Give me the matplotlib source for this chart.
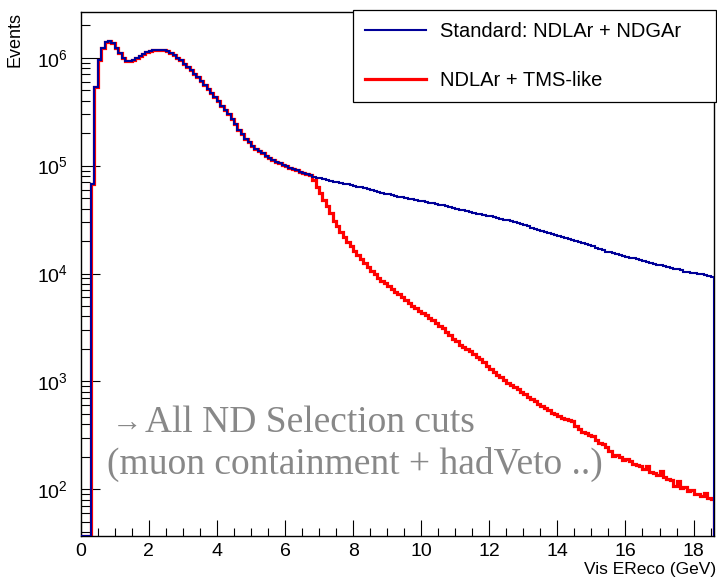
import numpy as np
import matplotlib
matplotlib.use("Agg")
import matplotlib.pyplot as plt
from matplotlib.ticker import LogLocator, MultipleLocator, NullFormatter, LogFormatterSciNotation

# ---------------- data (bin width 0.1 GeV, starting at 0) ----------------
bin_width = 0.1
x_range = (0.0, 18.6)
y_range = (37.0, 2.65e6)

# bins 0.0 - 6.8 GeV: both selections identical
shared_low = [
    0, 0, 0, 6.8e4, 5.4e5, 9.6e5, 1.24e6, 1.40e6, 1.43e6, 1.36e6,
    1.24e6, 1.10e6, 1.00e6, 9.4e5, 9.25e5, 9.5e5, 1.00e6, 1.04e6, 1.08e6, 1.12e6,
    1.15e6, 1.17e6, 1.19e6, 1.19e6, 1.17e6, 1.15e6, 1.11e6, 1.06e6, 1.00e6, 9.45e5,
    8.8e5, 8.2e5, 7.7e5, 7.1e5, 6.6e5, 6.1e5, 5.6e5, 5.1e5, 4.7e5, 4.3e5,
    3.95e5, 3.6e5, 3.3e5, 3.0e5, 2.7e5, 2.45e5, 2.15e5, 1.95e5, 1.78e5, 1.64e5,
    1.52e5, 1.44e5, 1.37e5, 1.30e5, 1.23e5, 1.18e5, 1.13e5, 1.08e5, 1.05e5, 1.02e5,
    9.9e4, 9.6e4, 9.3e4, 9.1e4, 8.8e4, 8.6e4, 8.4e4, 8.1e4,
]

# bins 6.8 - 18.6 GeV
standard_tail = [
    7.9e4, 7.7e4, 7.6e4, 7.5e4, 7.4e4, 7.25e4, 7.1e4, 7.0e4, 6.9e4, 6.8e4,
    6.7e4, 6.6e4, 6.5e4, 6.4e4, 6.3e4, 6.2e4, 6.05e4, 5.9e4, 5.8e4, 5.7e4,
    5.6e4, 5.5e4, 5.4e4, 5.33e4, 5.28e4, 5.17e4, 5.1e4, 5.0e4, 4.95e4, 4.88e4,
    4.8e4, 4.73e4, 4.67e4, 4.6e4, 4.54e4, 4.47e4, 4.41e4, 4.35e4, 4.28e4, 4.21e4,
    4.13e4, 4.06e4, 4.0e4, 3.92e4, 3.85e4, 3.78e4, 3.71e4, 3.65e4, 3.59e4, 3.54e4,
    3.48e4, 3.43e4, 3.38e4, 3.33e4, 3.27e4, 3.22e4, 3.16e4, 3.11e4, 3.05e4, 2.99e4,
    2.93e4, 2.87e4, 2.81e4, 2.76e4, 2.67e4, 2.60e4, 2.54e4, 2.48e4, 2.43e4, 2.38e4,
    2.33e4, 2.29e4, 2.24e4, 2.19e4, 2.14e4, 2.10e4, 2.06e4, 2.01e4, 1.98e4, 1.92e4,
    1.88e4, 1.84e4, 1.79e4, 1.74e4, 1.69e4, 1.64e4, 1.60e4, 1.57e4, 1.54e4, 1.51e4,
    1.48e4, 1.46e4, 1.43e4, 1.40e4, 1.39e4, 1.35e4, 1.33e4, 1.30e4, 1.28e4, 1.25e4,
    1.23e4, 1.21e4, 1.19e4, 1.17e4, 1.15e4, 1.13e4, 1.11e4, 1.10e4, 1.07e4, 1.04e4,
    1.04e4, 1.02e4, 1.01e4, 9.9e3, 9.8e3, 9.7e3, 9.5e3, 9.2e3,
]

tms_tail = [
    7.4e4, 6.4e4, 5.6e4, 4.8e4, 4.2e4, 3.6e4, 3.1e4, 2.75e4, 2.45e4, 2.2e4,
    1.98e4, 1.8e4, 1.62e4, 1.48e4, 1.36e4, 1.25e4, 1.15e4, 1.06e4, 9.8e3, 9.1e3,
    8.6e3, 8.1e3, 7.6e3, 7.2e3, 6.8e3, 6.4e3, 6.0e3, 5.7e3, 5.35e3, 5.0e3,
    4.75e3, 4.5e3, 4.3e3, 4.1e3, 3.9e3, 3.7e3, 3.45e3, 3.3e3, 3.1e3, 2.9e3,
    2.7e3, 2.5e3, 2.35e3, 2.2e3, 2.1e3, 2.0e3, 1.9e3, 1.8e3, 1.7e3, 1.6e3,
    1.5e3, 1.4e3, 1.31e3, 1.23e3, 1.16e3, 1.09e3, 1.03e3, 975, 925, 880,
    845, 800, 760, 720, 690, 660, 620, 590, 570, 540,
    515, 495, 475, 460, 450, 440, 430, 390, 360, 340,
    335, 320, 315, 285, 270, 262, 245, 225, 205, 210,
    198, 188, 190, 183, 172, 170, 166, 154, 166, 145,
    143, 135, 147, 130, 124, 121, 108, 120, 104, 106,
    97, 99, 90, 91, 86, 93, 84, 81,
]

labels = ["Standard: NDLAr + NDGAr", "NDLAr + TMS-like"]
colors = ["#000099", "#ff0000"]
x_title = "Vis EReco (GeV)"
y_title = "Events"
note_lines = ["All ND Selection cuts", "(muon containment + hadVeto ..)"]

# ---------------- figure ----------------
plt.rcParams["font.family"] = ["Liberation Sans", "DejaVu Sans"]
plt.rcParams["mathtext.fontset"] = "custom"
plt.rcParams["mathtext.rm"] = "Liberation Sans"
plt.rcParams["mathtext.it"] = "Liberation Sans:italic"

fig = plt.figure(figsize=(7.17, 5.81), dpi=100)
ax = fig.add_axes([80.7 / 717, 1 - 536 / 581, (714 - 80.7) / 717, (536 - 12) / 581])

standard = np.array(shared_low + standard_tail, dtype=float)
tms = np.array(shared_low + tms_tail, dtype=float)
edges_s = np.arange(len(standard) + 1) * bin_width
edges_t = np.arange(len(tms) + 1) * bin_width

# empty bins are drawn on the lower frame edge, as ROOT does
floor = y_range[0]
h_tms = ax.stairs(np.where(tms > 0, tms, floor), edges_t, color=colors[1], lw=2.3,
                  label=labels[1], zorder=2)
h_std = ax.stairs(np.where(standard > 0, standard, floor), edges_s, color=colors[0], lw=1.5,
                  label=labels[0], zorder=3)

ax.set_yscale("log")
ax.set_xlim(*x_range)
ax.set_ylim(*y_range)

ax.xaxis.set_major_locator(MultipleLocator(2))
ax.xaxis.set_minor_locator(MultipleLocator(0.5))
ax.yaxis.set_major_locator(LogLocator(base=10, numticks=20))
ax.yaxis.set_minor_locator(LogLocator(base=10, subs=np.arange(2, 10), numticks=20))
ax.yaxis.set_minor_formatter(NullFormatter())
ax.yaxis.set_major_formatter(LogFormatterSciNotation())

ax.tick_params(axis="both", which="both", direction="in", top=False, right=False,
               width=0.8, labelsize=14, color="black")
ax.tick_params(axis="y", which="major", length=13.5, pad=9)
ax.tick_params(axis="y", which="minor", length=6.3)
ax.tick_params(axis="x", which="major", length=11.5, pad=5)
ax.tick_params(axis="x", which="minor", length=5.8)
for s in ax.spines.values():
    s.set_linewidth(1.0)

ax.set_xlabel(x_title, fontsize=12.5, loc="right")
ax.xaxis.set_label_coords(1.003, -0.05)
ax.set_ylabel(y_title, fontsize=13, loc="top")
ax.yaxis.set_label_coords(-0.09, 1.0)

leg = fig.legend(handles=[h_std, h_tms], labels=labels, loc="upper left",
                 bbox_to_anchor=(353 / 717, 1 - 10 / 581, (716 - 353) / 717, 0.0),
                 mode="expand", fontsize=14.5, frameon=True, fancybox=False,
                 edgecolor="black", framealpha=1.0, borderaxespad=0.0,
                 handlelength=3.0, handletextpad=0.7, labelspacing=1.5,
                 borderpad=0.6)
leg.get_frame().set_linewidth(0.9)

grey = "#888888"
fig.text(112 / 717, 1 - 424 / 581, "\u2192", fontsize=22, color=grey,
         family=["Liberation Serif", "DejaVu Serif"], va="center", ha="left")
fig.text(145 / 717, 1 - 432 / 581, note_lines[0], fontsize=27, color=grey,
         family="Liberation Serif", va="baseline", ha="left")
fig.text(107 / 717, 1 - 474 / 581, note_lines[1], fontsize=27, color=grey,
         family="Liberation Serif", va="baseline", ha="left")

fig.savefig("out.png", dpi=100)
